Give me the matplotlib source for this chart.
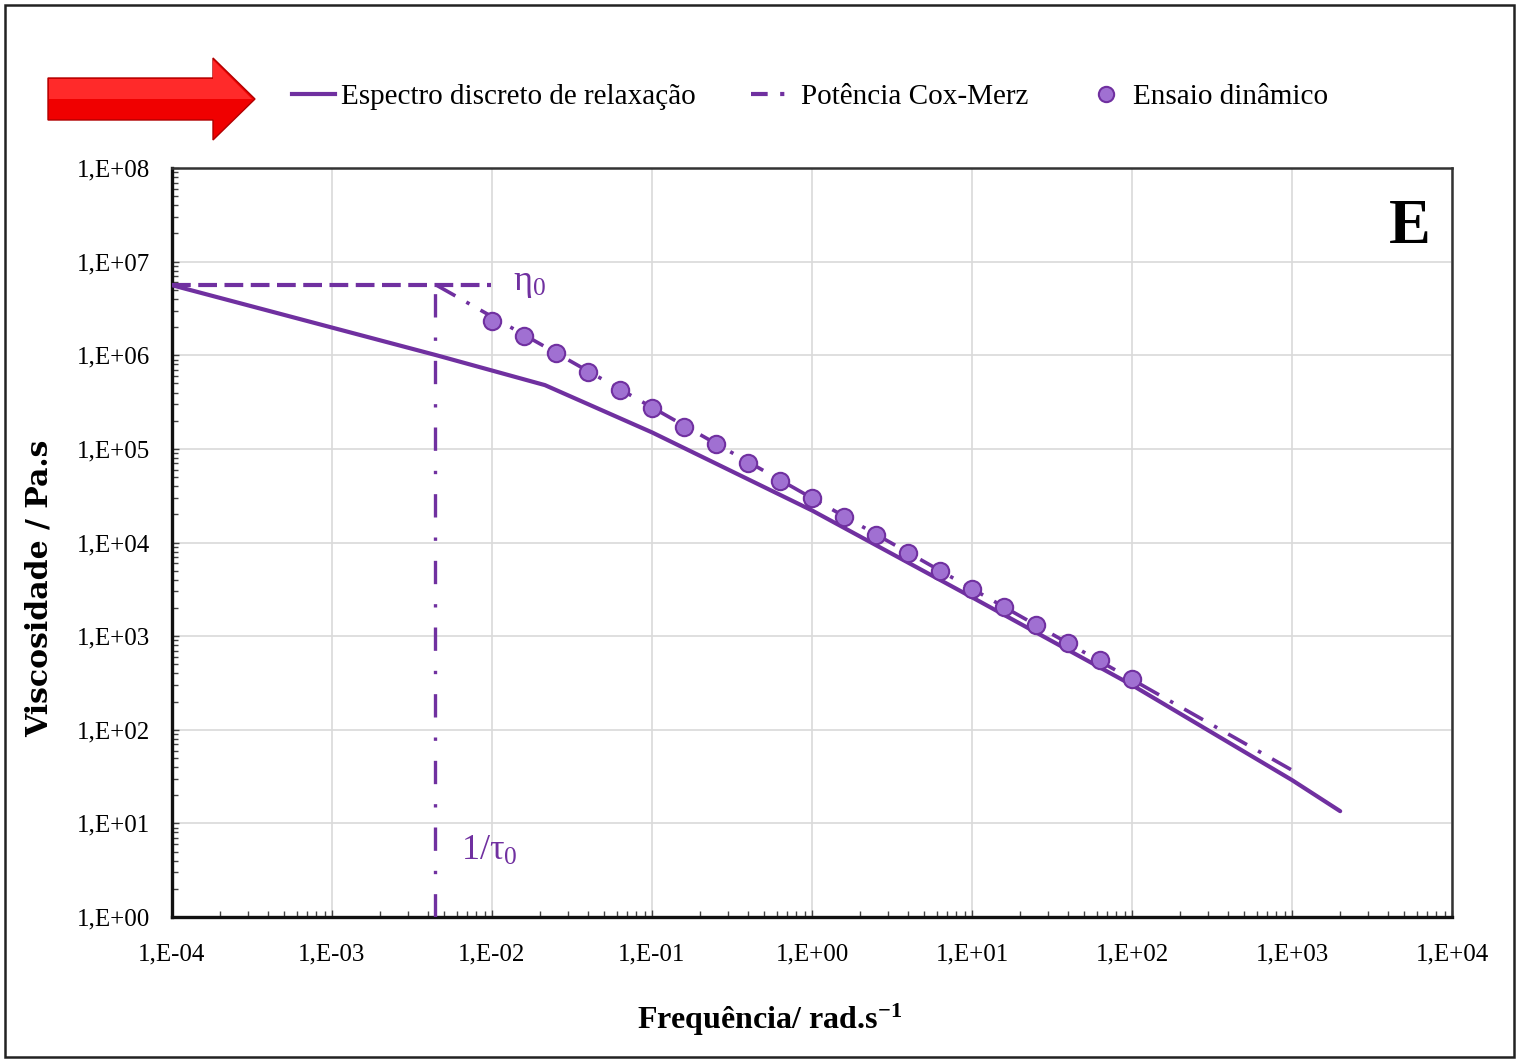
import numpy as np
import matplotlib
matplotlib.use("Agg")
import matplotlib.pyplot as plt
from matplotlib.lines import Line2D
from matplotlib.patches import Polygon, Rectangle
from matplotlib.ticker import LogLocator, FixedFormatter, FixedLocator, NullFormatter

plt.rcParams['font.family'] = ['Liberation Serif', 'DejaVu Serif']
plt.rcParams['mathtext.fontset'] = 'custom'
plt.rcParams['mathtext.rm'] = 'Liberation Serif'
plt.rcParams['mathtext.it'] = 'Liberation Serif:italic'
plt.rcParams['mathtext.bf'] = 'Liberation Serif:bold'

# data
freq_spec = [1e-4, 4.5e-3, 0.0214, 0.1, 1.0, 10.0, 100.0, 1000.0, 2000.0]
eta_spec = [5.6e6, 1.0e6, 4.8e5, 1.5e5, 2.2e4, 2.6e3, 3.0e2, 2.9e1, 1.35e1]

freq_cm = [4.5e-3, 1000.0]
eta_cm = [5.6e6, 3.7e1]

freq_dyn = [0.01, 0.0158, 0.0251, 0.0398, 0.0631, 0.1, 0.158, 0.251, 0.398, 0.631,
            1.0, 1.58, 2.51, 3.98, 6.31, 10.0, 15.8, 25.1, 39.8, 63.1, 100.0]
eta_dyn = [2.33e6, 1.61e6, 1.06e6, 6.65e5, 4.27e5, 2.74e5, 1.72e5, 1.13e5, 7.08e4, 4.55e4,
           2.99e4, 1.88e4, 1.21e4, 7.74e3, 4.98e3, 3.19e3, 2.05e3, 1.32e3, 846, 557, 349]

eta0 = 5.6e6
freq_eta0_end = 0.0098
inv_tau0 = 4.4e-3

x_ticks = [1e-4, 1e-3, 1e-2, 1e-1, 1e0, 1e1, 1e2, 1e3, 1e4]
x_labels = ['1,E-04', '1,E-03', '1,E-02', '1,E-01', '1,E+00', '1,E+01', '1,E+02', '1,E+03', '1,E+04']
y_ticks = [1e0, 1e1, 1e2, 1e3, 1e4, 1e5, 1e6, 1e7, 1e8]
y_labels = ['1,E+00', '1,E+01', '1,E+02', '1,E+03', '1,E+04', '1,E+05', '1,E+06', '1,E+07', '1,E+08']

purple = '#7030A0'
marker_fill = '#A070D2'

W, H = 1519, 1060
fig = plt.figure(figsize=(W / 100, H / 100), dpi=100)
ax = fig.add_axes([172 / W, 1 - 917 / H, (1452 - 172) / W, (917 - 168) / H])

ax.set_xscale('log')
ax.set_yscale('log')
ax.set_xlim(1e-4, 1e4)
ax.set_ylim(1e0, 1e8)

ax.grid(True, which='major', color='#d9d9d9', lw=1.2, zorder=0)

# zero-shear viscosity and 1/tau0 guides
ax.plot([1e-4, freq_eta0_end], [eta0, eta0], color=purple, lw=3,
        dashes=(4.5, 1.8), zorder=3)
ax.plot([inv_tau0, inv_tau0], [1.0, eta0], color=purple, lw=2.4,
        dashes=(7, 6, 1, 6), zorder=3)

ax.plot(freq_spec, eta_spec, color=purple, lw=3, solid_capstyle='round', zorder=4)
ax.plot(freq_cm, eta_cm, color=purple, lw=2.6, dashes=(6, 3.5, 1, 3.5), zorder=4)
ax.plot(freq_dyn, eta_dyn, ls='none', marker='o', ms=12.5, mfc=marker_fill,
        mec=purple, mew=1.5, zorder=5)

ax.text(0.0135, eta0 * 1.05, r'$\mathrm{\eta_0}$', color=purple, fontsize=26,
        ha='left', va='center')
ax.text(0.0064, 5.0, r'$\mathrm{1/\tau_0}$', color=purple, fontsize=26,
        ha='left', va='center')
ax.text(0.983, 0.90, 'E', transform=ax.transAxes, fontsize=45, fontweight='bold',
        ha='right', va='baseline')

ax.xaxis.set_major_locator(FixedLocator(x_ticks))
ax.xaxis.set_major_formatter(FixedFormatter(x_labels))
ax.yaxis.set_major_locator(FixedLocator(y_ticks))
ax.yaxis.set_major_formatter(FixedFormatter(y_labels))
ax.xaxis.set_minor_locator(LogLocator(base=10, subs=np.arange(2, 10), numticks=20))
ax.yaxis.set_minor_locator(LogLocator(base=10, subs=np.arange(2, 10), numticks=20))
ax.xaxis.set_minor_formatter(NullFormatter())
ax.yaxis.set_minor_formatter(NullFormatter())
ax.tick_params(axis='both', which='major', direction='in', length=5, width=1,
               color='#444444', labelsize=18)
ax.tick_params(axis='x', which='major', pad=19)
ax.tick_params(axis='y', which='major', pad=16)
ax.tick_params(axis='both', which='minor', direction='in', length=4, width=1,
               color='#444444')

for side in ['left', 'bottom']:
    ax.spines[side].set_linewidth(2.4)
    ax.spines[side].set_color('#111111')
for side in ['top', 'right']:
    ax.spines[side].set_linewidth(1.8)
    ax.spines[side].set_color('#333333')

ax.set_ylabel('Viscosidade / Pa.s', fontsize=21.5, fontweight='bold', family='DejaVu Serif')
ax.yaxis.set_label_coords((54 - 172) / 1280, (917 - 588) / 749)
ax.set_xlabel(r'Frequência/ rad.s$^{\mathbf{-1}}$', fontsize=23, fontweight='bold')
ax.xaxis.set_label_coords((770 - 172) / 1280, -(1020 - 917) / 749)
ax.xaxis.label.set_va('center')

# legend
handles = [
    Line2D([], [], color=purple, lw=3),
    Line2D([], [], color=purple, lw=3, dashes=(4, 3, 1, 3)),
    Line2D([], [], ls='none', marker='o', ms=11, mfc=marker_fill, mec=purple, mew=1.5),
]
labels = ['Espectro discreto de relaxação', 'Potência Cox-Merz', 'Ensaio dinâmico']
fig.legend(handles, labels, loc='center', bbox_to_anchor=(810 / W, 1 - 97 / H),
           ncol=3, frameon=False, fontsize=21, handlelength=1.5, handletextpad=0.2,
           columnspacing=1.9)

# red arrow
pts = [(48, 78), (213, 78), (213, 58), (255, 99), (213, 140), (213, 120), (48, 120)]
arrow = Polygon([(x / W, 1 - y / H) for x, y in pts], closed=True,
                transform=fig.transFigure, facecolor='#F00000', edgecolor='#B00000',
                lw=1)
fig.patches.append(arrow)
top_face = [(49, 79), (213, 79), (213, 60), (252, 99), (49, 99)]
shine = Polygon([(x / W, 1 - y / H) for x, y in top_face], closed=True,
                transform=fig.transFigure, facecolor='#FF2A2A', edgecolor='none')
fig.patches.append(shine)

# outer frame
frame = Rectangle((5 / W, 3 / H), (1514 - 5) / W, (1055 - 3) / H,
                  transform=fig.transFigure, fill=False, edgecolor='#222222', lw=1.8)
fig.patches.append(frame)

fig.savefig('out.png', dpi=100)
